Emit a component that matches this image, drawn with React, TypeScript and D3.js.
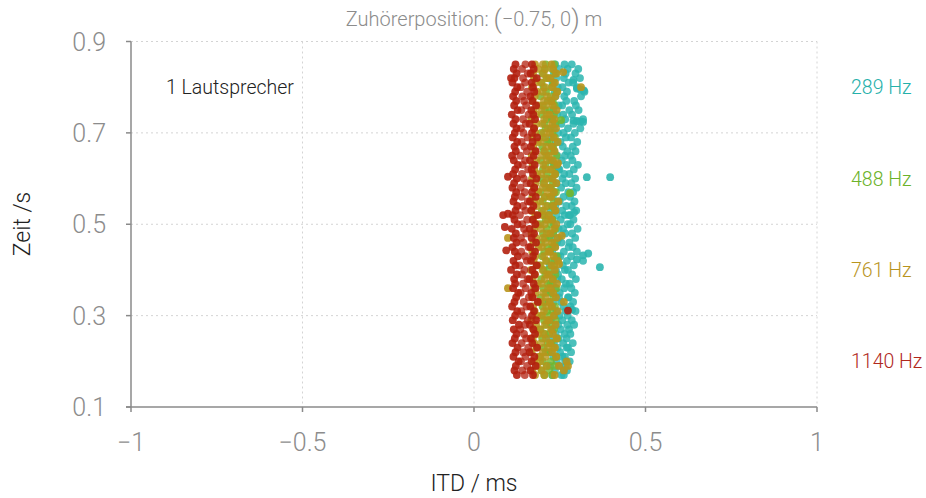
import React from "react";
import * as d3 from "d3";

const W = 926;
const H = 498;

const xTicks = [-1, -0.5, 0, 0.5, 1];
const xTickLabels = ["\u22121", "\u22120.5", "0", "0.5", "1"];
const yTicks = [0.1, 0.3, 0.5, 0.7, 0.9];
const yTickLabels = ["0.1", "0.3", "0.5", "0.7", "0.9"];

const frequencies = ["289 Hz", "488 Hz", "761 Hz", "1140 Hz"];
const freqColors = ["#2bb5af", "#74b62b", "#b9951b", "#b3200f"];
const labelColors = ["#25b0aa", "#6cb22a", "#b8941e", "#b0281c"];

// time grid (s)
const times = [
  0.17, 0.18, 0.19, 0.2, 0.21, 0.22, 0.23, 0.24, 0.25, 0.26,
  0.27, 0.28, 0.29, 0.3, 0.31, 0.32, 0.33, 0.34, 0.35, 0.36,
  0.37, 0.38, 0.39, 0.4, 0.41, 0.42, 0.43, 0.44, 0.45, 0.46,
  0.47, 0.48, 0.49, 0.5, 0.51, 0.52, 0.53, 0.54, 0.55, 0.56,
  0.57, 0.58, 0.59, 0.6, 0.61, 0.62, 0.63, 0.64, 0.65, 0.66,
  0.67, 0.68, 0.69, 0.7, 0.71, 0.72, 0.73, 0.74, 0.75, 0.76,
  0.77, 0.78, 0.79, 0.8, 0.81, 0.82, 0.83, 0.84, 0.85,
];

// 289 Hz ITD (ms)
const itd289a = [
  0.228, 0.236, 0.222, 0.241, 0.231, 0.225, 0.244, 0.233, 0.22, 0.238,
  0.229, 0.246, 0.224, 0.235, 0.24, 0.227, 0.232, 0.248, 0.223, 0.237,
  0.23, 0.243, 0.226, 0.239, 0.221, 0.234, 0.245, 0.228, 0.236, 0.242,
  0.225, 0.231, 0.247, 0.233, 0.229, 0.24, 0.224, 0.237, 0.244, 0.23,
  0.235, 0.222, 0.241, 0.227, 0.238, 0.246, 0.232, 0.226, 0.243, 0.234,
  0.229, 0.239, 0.224, 0.245, 0.233, 0.236, 0.228, 0.242, 0.231, 0.247,
  0.226, 0.238, 0.235, 0.244, 0.229, 0.24, 0.233, 0.248, 0.237,
];
const itd289b = [
  0.255, 0.262, 0.248, 0.266, 0.258, 0.251, 0.27, 0.26, 0.246, 0.264,
  0.253, 0.272, 0.257, 0.249, 0.267, 0.261, 0.254, 0.274, 0.25, 0.263,
  0.268, 0.256, 0.245, 0.265, 0.259, 0.271, 0.252, 0.262, 0.276, 0.255,
  0.248, 0.266, 0.26, 0.273, 0.253, 0.264, 0.257, 0.269, 0.25, 0.261,
  0.275, 0.254, 0.267, 0.258, 0.263, 0.249, 0.27, 0.256, 0.265, 0.272,
  0.259, 0.252, 0.268, 0.261, 0.274, 0.255, 0.266, 0.26, 0.278, 0.257,
  0.269, 0.263, 0.271, 0.258, 0.276, 0.262, 0.267, 0.273, 0.264,
];
const itd289c = [
  0.262, 0.271, 0.268, 0.279, 0.265, 0.283, 0.274, 0.288, 0.27, 0.281,
  0.277, 0.292, 0.285, 0.273, 0.296, 0.281, 0.289, 0.276, 0.294, 0.284,
  0.279, 0.297, 0.286, 0.274, 0.291, 0.318, 0.283, 0.3, 0.288, 0.278,
  0.295, 0.286, 0.302, 0.281, 0.29, 0.276, 0.298, 0.285, 0.293, 0.28,
  0.289, 0.299, 0.284, 0.295, 0.278, 0.291, 0.303, 0.287, 0.282, 0.296,
  0.288, 0.301, 0.283, 0.294, 0.31, 0.29, 0.318, 0.286, 0.305, 0.297,
  0.292, 0.312, 0.322, 0.3, 0.289, 0.309, 0.296, 0.304, 0.285,
];
const extra289T = [0.603, 0.603, 0.406, 0.436, 0.432, 0.423, 0.313, 0.797, 0.795, 0.793, 0.727, 0.726, 0.725, 0.724, 0.816, 0.52, 0.526];
const extra289I = [0.329, 0.397, 0.367, 0.333, 0.318, 0.3, 0.286, 0.3, 0.31, 0.32, 0.29, 0.3, 0.31, 0.318, 0.29, 0.28, 0.292];

// 488 Hz ITD (ms)
const itd488a = [
  0.205, 0.197, 0.212, 0.201, 0.193, 0.209, 0.203, 0.215, 0.199, 0.207,
  0.194, 0.211, 0.204, 0.198, 0.213, 0.2, 0.206, 0.195, 0.21, 0.202,
  0.216, 0.196, 0.208, 0.203, 0.192, 0.211, 0.199, 0.205, 0.214, 0.197,
  0.207, 0.201, 0.212, 0.194, 0.209, 0.204, 0.198, 0.215, 0.2, 0.206,
  0.193, 0.21, 0.203, 0.197, 0.213, 0.201, 0.208, 0.195, 0.211, 0.204,
  0.199, 0.214, 0.202, 0.196, 0.209, 0.205, 0.212, 0.198, 0.207, 0.201,
  0.215, 0.194, 0.21, 0.203, 0.197, 0.212, 0.2, 0.206, 0.209,
];
const itd488b = [
  0.228, 0.22, 0.235, 0.224, 0.239, 0.217, 0.231, 0.226, 0.242, 0.219,
  0.233, 0.225, 0.238, 0.221, 0.229, 0.236, 0.218, 0.232, 0.227, 0.24,
  0.223, 0.23, 0.237, 0.216, 0.234, 0.226, 0.241, 0.222, 0.228, 0.235,
  0.219, 0.231, 0.238, 0.224, 0.229, 0.217, 0.236, 0.227, 0.233, 0.221,
  0.239, 0.225, 0.23, 0.218, 0.237, 0.228, 0.234, 0.222, 0.24, 0.226,
  0.231, 0.219, 0.236, 0.229, 0.223, 0.238, 0.227, 0.233, 0.22, 0.235,
  0.23, 0.224, 0.241, 0.226, 0.232, 0.218, 0.237, 0.228, 0.234,
];
const extra488T = [0.568, 0.728];
const extra488I = [0.28, 0.254];

// 761 Hz ITD (ms)
const itd761a = [
  0.178, 0.17, 0.185, 0.174, 0.19, 0.168, 0.182, 0.176, 0.171, 0.187,
  0.173, 0.181, 0.167, 0.184, 0.177, 0.172, 0.189, 0.169, 0.18, 0.175,
  0.186, 0.171, 0.178, 0.166, 0.183, 0.174, 0.179, 0.17, 0.188, 0.173,
  0.181, 0.168, 0.176, 0.185, 0.172, 0.179, 0.167, 0.183, 0.175, 0.17,
  0.187, 0.174, 0.18, 0.169, 0.184, 0.176, 0.171, 0.182, 0.168, 0.178,
  0.173, 0.186, 0.17, 0.179, 0.175, 0.183, 0.167, 0.181, 0.174, 0.188,
  0.171, 0.177, 0.184, 0.169, 0.18, 0.175, 0.172, 0.186, 0.178,
];
const itd761b = [
  0.205, 0.198, 0.212, 0.193, 0.208, 0.201, 0.215, 0.196, 0.21, 0.203,
  0.192, 0.207, 0.214, 0.199, 0.204, 0.211, 0.195, 0.209, 0.202, 0.216,
  0.197, 0.206, 0.213, 0.2, 0.194, 0.21, 0.204, 0.217, 0.198, 0.208,
  0.201, 0.212, 0.195, 0.206, 0.214, 0.199, 0.203, 0.21, 0.193, 0.207,
  0.215, 0.2, 0.205, 0.211, 0.196, 0.209, 0.202, 0.213, 0.198, 0.206,
  0.211, 0.194, 0.208, 0.203, 0.216, 0.199, 0.205, 0.212, 0.197, 0.209,
  0.204, 0.214, 0.2, 0.207, 0.195, 0.211, 0.203, 0.208, 0.201,
];
const itd761c = [
  0.235, 0.262, 0.248, 0.27, 0.24, 0.228, 0.236, 0.222, 0.241, 0.23,
  0.225, 0.238, 0.219, 0.233, 0.244, 0.227, 0.221, 0.239, 0.231, 0.224,
  0.242, 0.229, 0.218, 0.236, 0.226, 0.245, 0.232, 0.22, 0.237, 0.228,
  0.243, 0.223, 0.234, 0.24, 0.226, 0.219, 0.238, 0.231, 0.246, 0.225,
  0.233, 0.221, 0.24, 0.229, 0.236, 0.224, 0.242, 0.23, 0.218, 0.235,
  0.227, 0.244, 0.232, 0.222, 0.239, 0.228, 0.234, 0.22, 0.241, 0.23,
  0.225, 0.237, 0.243, 0.229, 0.236, 0.223, 0.24, 0.231, 0.226,
];
const extra761T = [0.47, 0.413, 0.36, 0.19, 0.8, 0.833, 0.634, 0.475, 0.33];
const extra761I = [0.099, 0.248, 0.099, 0.274, 0.312, 0.26, 0.245, 0.256, 0.262];

// 1140 Hz ITD (ms)
const itd1140a = [
  0.125, 0.118, 0.122, 0.13, 0.115, 0.121, 0.127, 0.112, 0.119, 0.124,
  0.116, 0.131, 0.113, 0.12, 0.126, 0.111, 0.118, 0.123, 0.129, 0.114,
  0.12, 0.117, 0.125, 0.108, 0.121, 0.115, 0.128, 0.119, 0.112, 0.124,
  0.116, 0.122, 0.11, 0.127, 0.118, 0.113, 0.121, 0.126, 0.115, 0.119,
  0.123, 0.112, 0.117, 0.125, 0.114, 0.12, 0.128, 0.116, 0.111, 0.122,
  0.118, 0.126, 0.113, 0.119, 0.124, 0.115, 0.121, 0.11, 0.127, 0.117,
  0.123, 0.114, 0.12, 0.126, 0.112, 0.118, 0.124, 0.116, 0.121,
];
const itd1140b = [
  0.148, 0.141, 0.155, 0.137, 0.15, 0.144, 0.158, 0.139, 0.152, 0.146,
  0.135, 0.149, 0.157, 0.142, 0.138, 0.153, 0.145, 0.16, 0.136, 0.151,
  0.143, 0.156, 0.14, 0.147, 0.133, 0.154, 0.149, 0.138, 0.159, 0.144,
  0.137, 0.152, 0.146, 0.141, 0.155, 0.134, 0.15, 0.143, 0.157, 0.139,
  0.148, 0.136, 0.153, 0.145, 0.14, 0.158, 0.142, 0.149, 0.135, 0.154,
  0.147, 0.139, 0.156, 0.144, 0.137, 0.151, 0.143, 0.159, 0.138, 0.152,
  0.146, 0.141, 0.155, 0.136, 0.149, 0.143, 0.157, 0.14, 0.15,
];
const itd1140c = [
  0.172, 0.165, 0.18, 0.168, 0.176, 0.162, 0.184, 0.17, 0.166, 0.178,
  0.173, 0.163, 0.181, 0.169, 0.175, 0.164, 0.186, 0.171, 0.167, 0.179,
  0.174, 0.161, 0.177, 0.17, 0.183, 0.166, 0.172, 0.178, 0.164, 0.181,
  0.168, 0.175, 0.162, 0.179, 0.171, 0.185, 0.167, 0.173, 0.163, 0.18,
  0.169, 0.176, 0.165, 0.182, 0.172, 0.168, 0.177, 0.163, 0.174, 0.18,
  0.166, 0.171, 0.184, 0.169, 0.175, 0.162, 0.178, 0.173, 0.167, 0.181,
  0.17, 0.164, 0.176, 0.172, 0.168, 0.183, 0.165, 0.174, 0.169,
];
const extra1140T = [0.52, 0.523, 0.604, 0.82, 0.311, 0.494, 0.443];
const extra1140I = [0.085, 0.099, 0.099, 0.108, 0.274, 0.09, 0.094];

type Pt = { t: number; v: number; o: number };

function buildSeries(cols: number[][], opac: number[], exT: number[], exI: number[]): Pt[] {
  const pts: Pt[] = [];
  times.forEach((t, i) => {
    cols.forEach((c, k) => pts.push({ t, v: c[i], o: opac[k] }));
  });
  exT.forEach((t, i) => pts.push({ t, v: exI[i], o: 0.9 }));
  return pts;
}

const series: Pt[][] = [
  buildSeries([itd289a, itd289b, itd289c], [0.8, 0.85, 0.85], extra289T, extra289I),
  buildSeries([itd488a, itd488b], [0.85, 0.8], extra488T, extra488I),
  buildSeries([itd761a, itd761b, itd761c], [0.85, 0.8, 0.9], extra761T, extra761I),
  buildSeries([itd1140a, itd1140b, itd1140c], [0.9, 0.75, 0.9], extra1140T, extra1140I),
];

const FONT = "Roboto, 'Liberation Sans', sans-serif";

export default function App() {
  const x = d3.scaleLinear().domain([-1, 1]).range([131, 817]);
  const y = d3.scaleLinear().domain([0.1, 0.9]).range([407, 41.5]);
  const axisColor = "#8a8a8a";
  const gridColor = "#d4d4d4";
  const labelY = [0.8, 0.6, 0.4, 0.2];

  return (
    <svg
      width={W}
      height={H}
      style={{ position: "absolute", left: 0, top: 0, background: "#fff" }}
      fontFamily={FONT}
    >
      {/* grid */}
      {yTicks.filter((v) => v > 0.1).map((v) => (
        <line key={"gy" + v} x1={x(-1)} x2={x(1)} y1={y(v)} y2={y(v)} stroke={gridColor} strokeWidth={1} strokeDasharray="2,3" />
      ))}
      {xTicks.filter((v) => v > -1).map((v) => (
        <line key={"gx" + v} x1={x(v)} x2={x(v)} y1={y(0.9)} y2={y(0.1)} stroke={gridColor} strokeWidth={1} strokeDasharray="2,3" />
      ))}

      {/* points */}
      {series.map((pts, si) => (
        <g key={"s" + si} fill={freqColors[si]}>
          {pts.map((p, i) => (
            <circle key={i} cx={x(p.v)} cy={y(p.t)} r={3.9} fillOpacity={p.o} />
          ))}
        </g>
      ))}

      {/* axes */}
      <line x1={x(-1)} x2={x(-1)} y1={y(0.9)} y2={y(0.1)} stroke={axisColor} strokeWidth={1.5} />
      <line x1={x(-1) - 5} x2={x(1)} y1={y(0.1)} y2={y(0.1)} stroke={axisColor} strokeWidth={1.5} />
      {yTicks.map((v, i) => (
        <g key={"yt" + v}>
          <line x1={x(-1) - 5} x2={x(-1)} y1={y(v)} y2={y(v)} stroke={axisColor} strokeWidth={1.5} />
          <text x={106} y={y(v)} dy="0.36em" textAnchor="end" fontSize={25} fill="#8c8c8c" fontWeight={300}>
            {yTickLabels[i]}
          </text>
        </g>
      ))}
      {xTicks.map((v, i) => (
        <g key={"xt" + v}>
          <line x1={x(v)} x2={x(v)} y1={y(0.1)} y2={y(0.1) + 5} stroke={axisColor} strokeWidth={1.5} />
          <text x={x(v)} y={451} textAnchor="middle" fontSize={25} fill="#8c8c8c" fontWeight={300}>
            {xTickLabels[i]}
          </text>
        </g>
      ))}

      {/* axis titles */}
      <text x={474} y={491} textAnchor="middle" fontSize={23} fill="#222" fontWeight={300}>
        ITD / ms
      </text>
      <text transform="translate(30,224) rotate(-90)" textAnchor="middle" fontSize={23} fill="#222" fontWeight={300}>
        Zeit /s
      </text>

      {/* title */}
      <text x={474} y={26} textAnchor="middle" fontSize={20} fill="#8c8c8c" fontWeight={300}>
        Zuhörerposition: <tspan fontSize={26} dy={1.5}>(</tspan>
        <tspan dy={-1.5}>−0.75, 0</tspan>
        <tspan fontSize={26} dy={1.5}>)</tspan>
        <tspan dy={-1.5}> m</tspan>
      </text>

      {/* annotation */}
      <text x={166} y={94} fontSize={19.5} fill="#222" fontWeight={300}>
        1 Lautsprecher
      </text>

      {/* frequency labels */}
      {frequencies.map((f, i) => (
        <text key={f} x={851} y={y(labelY[i]) + 7} fontSize={19.5} fill={labelColors[i]} fontWeight={300}>
          {f}
        </text>
      ))}
    </svg>
  );
}
